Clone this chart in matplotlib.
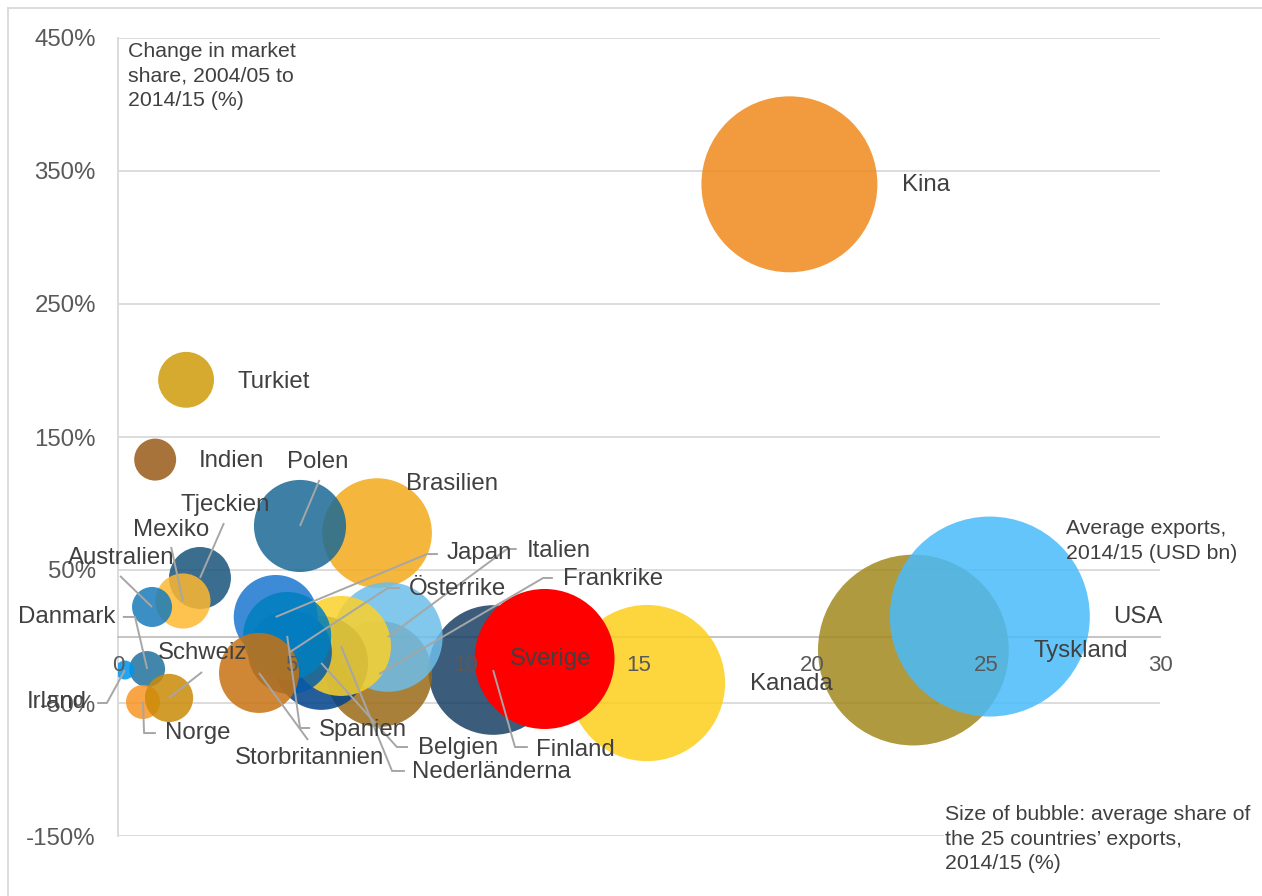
import matplotlib
matplotlib.use("Agg")
import matplotlib.pyplot as plt
from matplotlib.lines import Line2D
import matplotlib.colors as mcolors
import numpy as np

plt.rcParams['font.family'] = ['Liberation Sans', 'DejaVu Sans']

# ---------------- data ----------------
countries = ["Tyskland", "USA", "Kina", "Kanada", "Finland", "Brasilien", "Polen",
             "Frankrike", "Italien", "Belgien", "Nederländerna", "Österrike", "Japan",
             "Spanien", "Storbritannien", "Turkiet", "Indien", "Tjeckien", "Mexiko",
             "Australien", "Danmark", "Irland", "Norge", "Schweiz", "Sverige"]
exports = [22.9, 25.1, 19.33, 15.23, 10.8, 7.46, 5.24,
           7.52, 7.77, 5.85, 6.42, 4.95, 4.54,
           4.87, 4.06, 1.96, 1.07, 2.36, 1.87,
           0.98, 0.84, 0.20, 0.72, 1.47, 12.28]
change = [-10.2, 15.0, 340.0, -35.0, -25.2, 77.8, 83.1,
          -28.2, -0.4, -19.9, -7.1, -11.7, 14.7,
          0.4, -27.4, 193.0, 133.0, 44.0, 26.7,
          22.2, -24.4, -25.2, -49.2, -46.2, -16.9]
share = [9.1, 10.0, 7.74, 6.1, 4.2, 3.0, 2.12,
         2.8, 3.0, 2.2, 2.5, 1.76, 1.76,
         1.94, 1.6, 0.78, 0.44, 0.96, 0.76,
         0.40, 0.32, 0.09, 0.29, 0.58, 4.9]
colors = ["#B09A40", "#64C5FC", "#F29B3E", "#FDD53D", "#3C5C7C", "#F6B73D", "#3E80A5",
          "#A8803A", "#82C7EC", "#1E5E9C", "#FCD84A", "#2A74B4", "#3D8BD8",
          "#2192C9", "#D08735", "#D5AA2E", "#A8743B", "#3B6E8F", "#FEC34E",
          "#3B8FC5", "#4286AB", "#1EA3EE", "#F9A445", "#D29C2D", "#FF0000"]

yticks = [-150, -50, 50, 150, 250, 350, 450]
xticks = [0, 5, 10, 15, 20, 25, 30]

# ---------------- layout ----------------
W, H = 1262, 896
fig = plt.figure(figsize=(W / 100, H / 100), dpi=100)
ax = fig.add_axes([118 / W, 60 / H, 1042 / W, 798 / H])
ax.set_xlim(0, 30)
ax.set_ylim(-150, 450)

alpha = 0.85
def comp(c, a):
    rgb = np.array(mcolors.to_rgb(c))
    return tuple(np.clip((rgb - (1 - a)) / a, 0, 1))

# gridlines below bubbles
for yv in yticks:
    ax.axhline(yv, color="#d9d9d9", lw=1.3, zorder=0.5)

px_per_share = 1000.0  # bubble area (px^2) per share unit
for name, xv, yv, sv, c in zip(countries, exports, change, share, colors):
    a = 1.0 if name == "Sverige" else alpha
    r_px = np.sqrt(sv * px_per_share)
    s = (2 * r_px * 72 / 100) ** 2
    ax.scatter([xv], [yv], s=s, color=[comp(c, a)], alpha=a, edgecolors='none', zorder=2)

# axes
ax.set_yticks(yticks)
ax.set_yticklabels([f"{v}%" for v in yticks])
ax.set_xticks(xticks)
ax.set_xticklabels([str(v) for v in xticks])
ax.grid(False)
for sp in ["top", "right"]:
    ax.spines[sp].set_visible(False)
ax.spines["left"].set_color("#d9d9d9")
ax.spines["left"].set_linewidth(1.3)
ax.spines["left"].set_zorder(0.6)
ax.spines["bottom"].set_position(("data", 0))
ax.spines["bottom"].set_color("#bfbfbf")
ax.spines["bottom"].set_linewidth(1.3)
ax.spines["bottom"].set_zorder(0.6)
ax.xaxis.set_zorder(3)
ax.yaxis.set_zorder(3)
ax.tick_params(axis="y", length=0, pad=16, labelsize=17.3, labelcolor="#595959")
ax.tick_params(axis="x", length=0, pad=13, labelsize=16, labelcolor="#595959")

# labels: (x, y, ha) in data units, leader elbow points
labels = {
    "Kina": (22.57, 339.5, "left", []),
    "Turkiet": (3.43, 191.4, "left", []),
    "Indien": (2.33, 132.0, "left", []),
    "Polen": (5.76, 131.2, "center", [(5.80, 117.7)]),
    "Brasilien": (8.29, 115.0, "left", []),
    "Tjeckien": (1.79, 98.9, "left", [(3.05, 85.3)]),
    "Mexiko": (0.43, 80.1, "left", [(1.53, 67.3)]),
    "Australien": (-1.44, 59.0, "left", [(0.06, 45.5)]),
    "Danmark": (-2.88, 14.7, "left", [(0.14, 14.7), (0.49, 14.7)]),
    "Irland": (-2.62, -49.2, "left", [(-0.60, -50.0), (-0.32, -50.0)]),
    "Schweiz": (1.15, -12.4, "left", [(2.42, -26.7)]),
    "Norge": (1.35, -72.6, "left", [(1.09, -72.6), (0.75, -72.6)]),
    "Storbritannien": (3.37, -91.4, "left", [(5.47, -77.8)]),
    "Spanien": (5.79, -70.3, "left", [(5.53, -68.8), (5.24, -68.8)]),
    "Belgien": (8.64, -83.8, "left", [(8.35, -83.1), (8.03, -83.1)]),
    "Nederländerna": (8.47, -101.9, "left", [(8.26, -101.1), (7.89, -101.1)]),
    "Finland": (12.04, -85.3, "left", [(11.80, -83.1), (11.43, -83.1)]),
    "Japan": (9.47, 62.8, "left", [(9.21, 62.0), (8.90, 62.0)]),
    "Italien": (11.78, 64.3, "left", [(11.48, 65.8), (11.20, 65.8)]),
    "Österrike": (8.38, 35.7, "left", [(8.12, 36.5), (7.77, 36.5)]),
    "Frankrike": (12.81, 43.2, "left", [(12.52, 44.0), (12.24, 44.0)]),
    "Kanada": (18.2, -35.7, "left", []),
    "Tyskland": (26.35, -10.9, "left", []),
    "USA": (28.65, 14.7, "left", []),
    "Sverige": (12.47, -16.9, "center", []),
}
pos = {n: (x, y) for n, x, y in zip(countries, exports, change)}
for name, (lx, ly, ha, elbow) in labels.items():
    if elbow:
        pts = elbow + [pos[name]]
        ax.plot([p[0] for p in pts], [p[1] for p in pts], color="#a6a6a6",
                lw=1.4, zorder=4, clip_on=False, solid_capstyle="butt")
    ax.text(lx, ly, name, ha=ha, va="center", fontsize=17.3, color="#404040",
            zorder=5, clip_on=False)

# annotations
fig.text(128 / W, 1 - 42 / H, "Change in market\nshare, 2004/05 to\n2014/15 (%)",
         ha="left", va="top", fontsize=15.3, color="#404040", linespacing=1.38)
fig.text(1066 / W, 1 - 519 / H, "Average exports,\n2014/15 (USD bn)",
         ha="left", va="top", fontsize=15.3, color="#404040", linespacing=1.38)
fig.text(945 / W, 1 - 805 / H,
         "Size of bubble: average share of\nthe 25 countries’ exports,\n2014/15 (%)",
         ha="left", va="top", fontsize=15.3, color="#404040", linespacing=1.38,
         bbox=dict(facecolor="white", edgecolor="none", pad=1), zorder=6)

# outer frame
fig.add_artist(Line2D([8 / W, 8 / W], [0, 1 - 8 / H], color="#d9d9d9", lw=1.3))
fig.add_artist(Line2D([8 / W, 1], [1 - 8 / H, 1 - 8 / H], color="#d9d9d9", lw=1.3))

fig.savefig("out.png", dpi=100, facecolor="white")
